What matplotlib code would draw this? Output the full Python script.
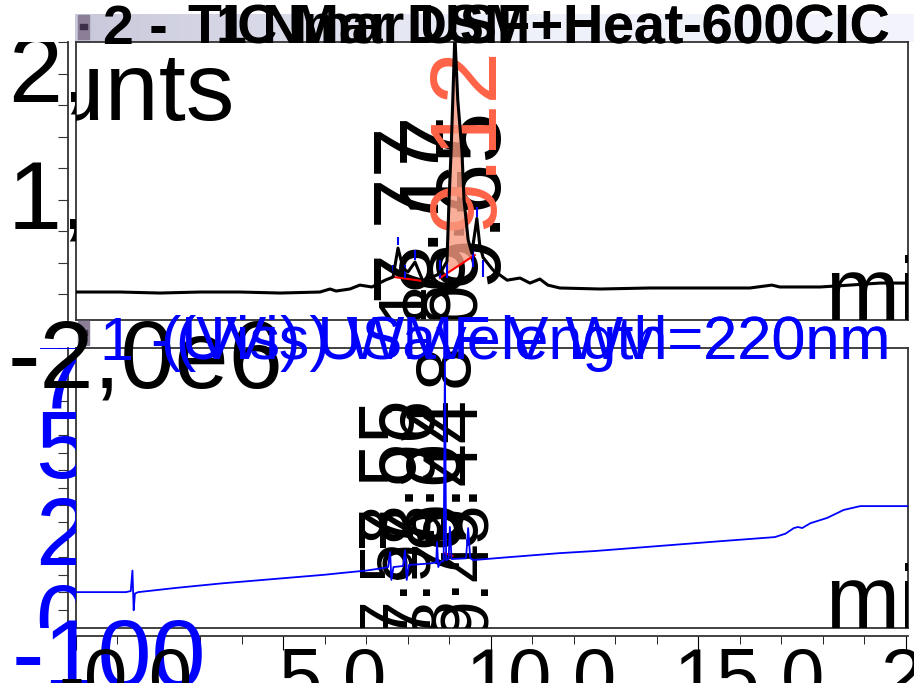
import numpy as np
import matplotlib
matplotlib.use("Agg")
import matplotlib.pyplot as plt
from matplotlib.colors import LinearSegmentedColormap
from matplotlib.patches import Rectangle
from matplotlib.transforms import Bbox, TransformedBbox, blended_transform_factory, offset_copy

W, H = 914, 683
FONT = ['Liberation Sans Narrow', 'Liberation Sans', 'DejaVu Sans']
plt.rcParams['font.family'] = FONT

# ---- TIC (top panel), time in min, counts ----
tic_t = [0.0, 1.06, 2.02, 2.99, 3.95, 4.92, 5.88, 6.12, 6.27, 6.6, 6.84, 7.13, 7.45, 7.64,
         7.76, 7.88, 8.0, 8.17, 8.36, 8.70, 8.82, 8.94, 8.99, 9.04, 9.08, 9.13, 9.20, 9.30,
         9.35, 9.45, 9.54, 9.66, 9.73, 9.81, 10.05, 10.39, 10.7, 10.94, 11.18, 11.37, 11.66,
         12.63, 13.83, 15.04, 16.24, 16.77, 16.96, 17.93, 18.65, 19.37, 20.05]
tic_c = [0.016, 0.016, 0.008, 0.016, 0.016, 0.008, 0.016, 0.040, 0.024, 0.040, 0.071, 0.056,
         0.110, 0.135, 0.365, 0.206, 0.175, 0.254, 0.103, 0.151, 0.190, 0.26, 0.75, 1.14,
         1.54, 2.06, 1.54, 1.14, 0.75, 0.43, 0.325, 0.60, 0.39, 0.29, 0.19, 0.11, 0.127,
         0.087, 0.119, 0.071, 0.048, 0.040, 0.048, 0.048, 0.048, 0.071, 0.056, 0.056, 0.071,
         0.087, 0.087]
tic_c = [v * 1e6 for v in tic_c]

# integrated peak (shaded) and integration baselines
fill_t = [8.94, 8.99, 9.04, 9.08, 9.13, 9.20, 9.30, 9.35, 9.45, 9.54]
fill_base = [0.167e6, 0.178e6, 0.189e6, 0.198e6, 0.209e6, 0.225e6, 0.247e6, 0.258e6,
             0.280e6, 0.300e6]
red_t = [[7.67, 8.36], [8.77, 9.61]]
red_c = [[0.135e6, 0.103e6], [0.127e6, 0.31e6]]

# peak markers (short blue ticks)
mark_t = [7.64, 7.76, 7.93, 8.17, 8.77, 8.94, 9.57, 9.66, 9.81, 9.13]
mark_lo = [0.127, 0.389, 0.127, 0.27, 0.127, 0.127, 0.214, 0.611, 0.135, 1.95]
mark_hi = [0.23, 0.452, 0.23, 0.349, 0.27, 0.27, 0.429, 0.69, 0.27, 2.05]

# ---- UV (bottom panel), mAU ----
uv_t = [0, 1.2, 1.32, 1.36, 1.39, 1.42, 1.5, 1.8, 2.4, 3.5, 5.0, 6.0, 6.4, 7.0, 7.45, 7.52,
        7.57, 7.60, 7.65, 7.88, 7.93, 7.97, 8.02, 8.5, 8.68, 8.70, 8.73, 8.78, 8.86, 8.89,
        8.92, 8.98, 9.01, 9.05, 9.40, 9.45, 9.50, 9.57, 10.39, 11.66, 12.5, 14.0, 15.5,
        16.84, 17.1, 17.3, 17.4, 17.5, 17.7, 18.1, 18.5, 18.9, 20.05]
uv_v = [0, 0, 3, 62, -52, -4, 0, 4, 12, 25, 40, 50, 55, 62, 70, 72,
        115, 35, 72, 75, 120, 35, 78, 82, 85, 144, 72, 86, 90, 667,
        92, 95, 187, 95, 97, 184, 98, 92, 100, 112, 118, 132, 146,
        158, 168, 184, 187, 184, 198, 213, 236, 247, 247]

# retention time labels
top_lab = ["7.77", "8.17", "9.65"]
top_lab_t = [8.05, 8.7, 9.55]
top_lab_c = [-0.05e6, 0.03e6, 0.07e6]
top_low_lab = ["7.61", "8.28", "8.90"]
top_low_t = [7.95, 8.55, 9.2]
bot_lab = ["7.55", "7.96", "9.04", "9.44"]
bot_lab_t = [7.55, 8.05, 8.7, 9.1]
bot_low_lab = ["7.58", "7.93", "8.70", "9.45"]
bot_low_t = [7.5, 8.05, 8.75, 9.45]

xt_major = [0, 5, 10, 15, 20]
xt_labels = ["-0.0", "5.0", "10.0", "15.0", "20.0"]
top_yt = [2e6, 1e6]
top_ylab = ["2,000,000", "1,000,000"]
bot_yt = [700, 500, 250, 0]
bot_ylab = ["700", "500", "250", "0"]

fig = plt.figure(figsize=(W / 100, H / 100), dpi=100)


def fx(x):
    return x / W


def fy(y):
    return 1 - y / H


# title banners
cm = LinearSegmentedColormap.from_list('ban', ['#c8c8da', '#eef0fa', '#f4f5fc'])
bax = fig.add_axes([fx(75), fy(42), fx(914) - fx(75), fy(14) - fy(42)])
bax.imshow(np.linspace(0, 1, 256)[None, :], aspect='auto', cmap=cm)
bax.set_axis_off()
for yy in (15, 321):
    fig.patches.append(Rectangle((fx(78), fy(yy + 24)), fx(11), 24 / H, transform=fig.transFigure,
                                 color='#8a7f96', zorder=1))
    fig.patches.append(Rectangle((fx(80), fy(yy + 14)), fx(7), 5 / H, transform=fig.transFigure,
                                 color='#3a2e48', zorder=1))

ax1 = fig.add_axes([fx(76), fy(320), fx(908) - fx(76), fy(42) - fy(320)])
ax2 = fig.add_axes([fx(76), fy(628), fx(908) - fx(76), fy(348) - fy(628)])

for ax in (ax1, ax2):
    ax.set_xlim(0, 20.05)
    ax.spines['left'].set_position(('outward', 6))
    ax.plot([0, 0], [0, 1], transform=ax.transAxes, color='#333333', lw=1.3, clip_on=False)
    for s in ax.spines.values():
        s.set_color('#333333')
        s.set_linewidth(1.3)
    ax.tick_params(axis='y', which='both', direction='out', length=7, color='#333333',
                   labelleft=False)
    ax.set_xticks([])

ax1.set_ylim(-0.206e6, 2.0e6)
ax1.set_yticks(np.arange(0, 2.01e6, 0.25e6))
ax2.set_ylim(-103, 701)
ax2.set_yticks(np.arange(-100, 701, 50))

# bottom x axis
ax2.spines['bottom'].set_position(('outward', 6))
ax2.plot([0, 1], [0, 0], transform=ax2.transAxes, color='#333333', lw=1.3, clip_on=False)
ax2.set_xticks(xt_major)
ax2.set_xticks(np.arange(0, 20.5, 1), minor=True)
ax2.tick_params(axis='x', which='major', length=10, direction='out', labelbottom=False)
ax2.tick_params(axis='x', which='minor', length=6, direction='out')

# ---- top panel drawing ----
for lab, t, c in zip(top_lab, top_lab_t, top_lab_c):
    ax1.text(t, c, lab, rotation=90, color='black', fontsize=66, ha='center', va='bottom',
             clip_on=True, zorder=2)
for lab, t in zip(top_low_lab, top_low_t):
    ax1.text(t, 0.1e6, lab, rotation=90, color='black', fontsize=50, ha='center', va='top',
             clip_on=True, zorder=2)
ax1.text(9.45, 1.97e6, "9.12", rotation=90, color='#ff6347', fontsize=68, ha='center', va='top',
         clip_on=True, zorder=3)

peak_c = [tic_c[tic_t.index(t)] for t in fill_t]
ax1.fill_between(fill_t, fill_base, peak_c, color='#f89a80', alpha=0.8, zorder=4, lw=0)
for tt, cc in zip(red_t, red_c):
    ax1.plot(tt, cc, color='red', lw=1.5, zorder=5)
ax1.vlines(mark_t, [v * 1e6 for v in mark_lo], [v * 1e6 for v in mark_hi], color='blue', lw=1.5, zorder=5)
ax1.plot(tic_t, tic_c, color='black', lw=2.2, zorder=6)

ax1.text(18.05, -0.206e6, "min", color='black', fontsize=64, ha='left', va='baseline',
         clip_on=True, zorder=5)
ax1.text(0.19, 0.97, "Counts", transform=ax1.transAxes, color='black', fontsize=70,
         ha='right', va='top', clip_on=True)

# ---- bottom panel drawing ----
for lab, t in zip(bot_low_lab, bot_low_t):
    ax2.text(t, -125, lab, rotation=90, color='black', fontsize=50, ha='center', va='bottom',
             clip_on=True, zorder=2)
for lab, t in zip(bot_lab, bot_lab_t):
    ax2.text(t, 130, lab, rotation=90, color='black', fontsize=56, ha='center', va='bottom',
             clip_on=True, zorder=2)
ax2.text(8.95, 590, "8.88", rotation=90, color='black', fontsize=56, ha='center', va='bottom',
         clip_on=True, zorder=2)
ax2.plot([8.88, 9.08], [112, 104], color='red', lw=1.2, zorder=5)
ax2.plot(uv_t, uv_v, color='blue', lw=1.3, zorder=6)
ax2.text(18.05, -103, "min", color='black', fontsize=64, ha='left', va='baseline',
         clip_on=True, zorder=5)

# ---- tick labels (big, clipped at the plot frame) ----
def left_clip(y0, y1):
    return TransformedBbox(Bbox([[0, fy(y1)], [fx(76), fy(y0)]]), fig.transFigure)


tr1 = offset_copy(blended_transform_factory(fig.transFigure, ax1.transData), fig, y=-35, units='dots')
for v, lab in zip(top_yt, top_ylab):
    t = fig.text(fx(8), v, lab, transform=tr1, fontsize=70, ha='left', va='center', color='black')
    t.set_clip_box(left_clip(42, 320))
    t.set_clip_on(True)

tr2 = offset_copy(blended_transform_factory(fig.transFigure, ax2.transData), fig, y=-35, units='dots')
for v, lab in zip(bot_yt, bot_ylab):
    t = fig.text(fx(35), v, lab, transform=tr2, fontsize=70, ha='left', va='center', color='blue')
    t.set_clip_box(left_clip(348, 628))
    t.set_clip_on(True)
fig.text(fx(12), -100, "-100", transform=tr2, fontsize=70, ha='left', va='center', color='blue')
fig.text(fx(8), fy(362), "-2,0e6", fontsize=70, ha='left', va='center', color='black')

trx = offset_copy(blended_transform_factory(ax2.transData, fig.transFigure), fig, x=50, units='dots')
for v, lab in zip(xt_major, xt_labels):
    fig.text(v, fy(646), lab, transform=trx, fontsize=56, ha='center', va='top', color='black')

# ---- titles ----
fig.text(fx(103), fy(30), "2 -", fontsize=40, ha='left', va='center', color='black', weight='bold')
fig.text(fx(890), fy(30), "1 Nmar USF+Heat-600CIC", fontsize=40, ha='right', va='center',
         color='black', weight='bold')
fig.text(fx(890), fy(30), "TIC Mar DSM+Heat-600CIC", fontsize=40, ha='right', va='center',
         color='black', weight='bold')
fig.text(fx(100), fy(344), "1 -", fontsize=44, ha='left', va='center', color='blue')
fig.text(fx(890), fy(344), "(UVis) Wavelength=220nm", fontsize=44, ha='right',
         va='center', color='blue')
fig.text(fx(890), fy(344), "(Vis) USMF V Wvl=220nm", fontsize=44, ha='right',
         va='center', color='blue')

fig.savefig("out.png", dpi=100)
